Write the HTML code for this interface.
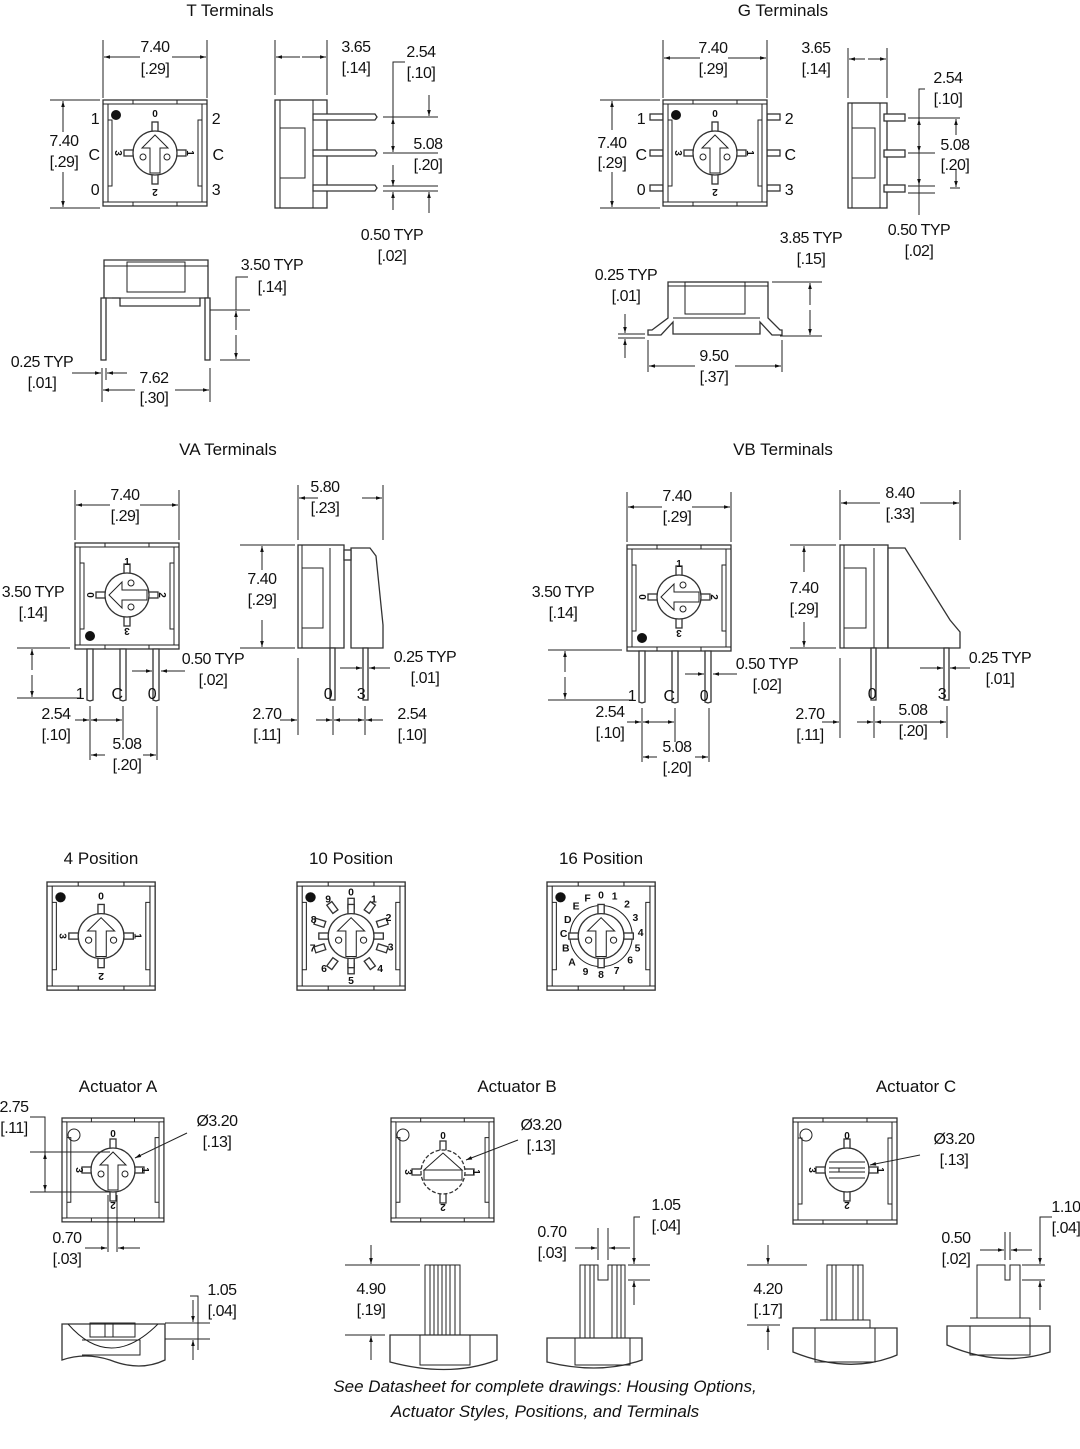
<!DOCTYPE html>
<html><head><meta charset="utf-8"><style>
html,body{margin:0;padding:0;background:#fff}
svg{display:block}
text{font-family:"Liberation Sans",sans-serif;fill:#111}
.d{font-size:16px;text-anchor:middle;letter-spacing:-0.5px}
.t{font-size:17px;text-anchor:middle}
.s{font-size:10px;font-weight:bold;text-anchor:middle}
.f{font-size:17px;font-style:italic;text-anchor:middle}
.l{stroke:#222;stroke-width:1;fill:none}
.b{stroke:#333;stroke-width:1.3;fill:#fff}
</style></head><body>
<svg width="1080" height="1449" viewBox="0 0 1080 1449" xmlns="http://www.w3.org/2000/svg">
<defs>
<marker id="a" viewBox="0 0 10 10" refX="10" refY="5" markerWidth="9" markerHeight="6" orient="auto-start-reverse"><path d="M0,2 L10,5 L0,8 z" fill="#111"/></marker>
<g id="body">
<rect x="0" y="0" width="104" height="106" class="b"/>
<rect x="5" y="4" width="94" height="98" class="l"/>
<path class="l" d="M0,4 h5 M99,4 h5 M0,102 h5 M99,102 h5 M30,0 v4 M74,0 v4 M30,102 v4 M74,102 v4 M5,20 h4 v66 h-4 M99,20 h-4 v66 h4"/>
</g>
<g id="dial">
<rect x="-3" y="-31" width="6" height="10" class="b"/>
<rect x="-3" y="21" width="6" height="10" class="b"/>
<rect x="-31" y="-3" width="10" height="6" class="b"/>
<rect x="21" y="-3" width="10" height="6" class="b"/>
<circle r="22" class="b"/>
<path class="l" d="M0,-18 L-13,-5 L-5,-5 L-5,20 L5,20 L5,-5 L13,-5 Z"/>
<circle cx="-12" cy="4" r="3" class="l"/><circle cx="12" cy="4" r="3" class="l"/>
</g>
<g id="sw">
<use href="#body"/>
<circle cx="13" cy="15" r="5" fill="#111"/>
<use href="#dial" x="52" y="53"/>
<text class="s" x="52" y="17">0</text>
<text class="s" x="52" y="97" transform="rotate(180 52 93)">2</text>
<text class="s" x="16" y="57" transform="rotate(90 16 53)">3</text>
<text class="s" x="88" y="57" transform="rotate(90 88 53)">1</text>
</g>
</defs>

<!-- ===== T Terminals ===== -->
<text class="t" x="230" y="16">T Terminals</text>
<use href="#sw" x="103" y="100"/>
<path class="l" d="M103,40 V98 M207,40 V98"/>
<line class="l" x1="140" y1="57" x2="104" y2="57" marker-end="url(#a)"/>
<line class="l" x1="172" y1="57" x2="206" y2="57" marker-end="url(#a)"/>
<text class="d" x="155" y="52">7.40</text><text class="d" x="155" y="74">[.29]</text>
<path class="l" d="M50,100 H100 M50,208 H100"/>
<line class="l" x1="63" y1="132" x2="63" y2="101" marker-end="url(#a)"/>
<line class="l" x1="63" y1="172" x2="63" y2="207" marker-end="url(#a)"/>
<text class="d" x="64" y="146">7.40</text><text class="d" x="64" y="167">[.29]</text>
<text class="d" x="95" y="124">1</text><text class="d" x="94" y="160">C</text><text class="d" x="95" y="195">0</text>
<text class="d" x="216" y="124">2</text><text class="d" x="218" y="160">C</text><text class="d" x="216" y="195">3</text>
<!-- side -->
<rect x="275" y="100" width="52" height="108" class="b"/>
<path class="l" d="M280,100 V208 M313,100 V208 M280,128 H305 V178 H280"/>
<path class="b" d="M313,114 H375 L377,117 L375,120 H313 Z M313,150 H375 L377,153 L375,156 H313 Z M313,185 H375 L377,188 L375,191 H313 Z"/>
<path class="l" d="M275,40 V95 M327,40 V95"/>
<line class="l" x1="300" y1="57" x2="276" y2="57" marker-end="url(#a)"/>
<line class="l" x1="302" y1="57" x2="326" y2="57" marker-end="url(#a)"/>
<text class="d" x="356" y="52">3.65</text><text class="d" x="356" y="73">[.14]</text>
<text class="d" x="421" y="57">2.54</text><text class="d" x="421" y="78">[.10]</text>
<path class="l" d="M405,62 H393 V118 M383,117 H438 M383,153 H438 M383,186 H438 M383,191 H438"/>
<line class="l" x1="429" y1="95" x2="429" y2="116" marker-end="url(#a)"/>
<line class="l" x1="393" y1="135" x2="393" y2="118" marker-end="url(#a)"/>
<line class="l" x1="393" y1="135" x2="393" y2="152" marker-end="url(#a)"/>
<line class="l" x1="393" y1="165" x2="393" y2="186" marker-end="url(#a)"/>
<line class="l" x1="393" y1="210" x2="393" y2="192" marker-end="url(#a)"/>
<line class="l" x1="429" y1="213" x2="429" y2="192" marker-end="url(#a)"/>
<text class="d" x="428" y="149">5.08</text><text class="d" x="428" y="170">[.20]</text>
<text class="d" x="392" y="240">0.50 TYP</text><text class="d" x="392" y="261">[.02]</text>
<!-- front -->
<path class="b" d="M104,260 H208 V298 H200 V306 H120 V298 H104 Z"/>
<rect x="127" y="262" width="58" height="30" class="l"/>
<path class="l" d="M104,266 H208 M112,298 H200"/>
<rect x="101" y="298" width="5" height="62" class="b"/>
<rect x="205" y="298" width="5" height="62" class="b"/>
<path class="l" d="M210,310 H250 M220,360 H250 M248,277 H236 V310"/>
<line class="l" x1="236" y1="330" x2="236" y2="311" marker-end="url(#a)"/>
<line class="l" x1="236" y1="335" x2="236" y2="359" marker-end="url(#a)"/>
<text class="d" x="272" y="270">3.50 TYP</text><text class="d" x="272" y="292">[.14]</text>
<text class="d" x="42" y="367">0.25 TYP</text><text class="d" x="42" y="388">[.01]</text>
<path class="l" d="M102,368 V402 M210,368 V402 M106,368 V380"/>
<line class="l" x1="72" y1="373" x2="101" y2="373" marker-end="url(#a)"/>
<line class="l" x1="127" y1="373" x2="107" y2="373" marker-end="url(#a)"/>
<line class="l" x1="135" y1="390" x2="103" y2="390" marker-end="url(#a)"/>
<line class="l" x1="175" y1="390" x2="209" y2="390" marker-end="url(#a)"/>
<text class="d" x="154" y="383">7.62</text><text class="d" x="154" y="403">[.30]</text>

<!-- ===== G Terminals ===== -->
<text class="t" x="783" y="16">G Terminals</text>
<g class="b">
<rect x="650" y="114" width="13" height="6"/><rect x="650" y="150" width="13" height="6"/><rect x="650" y="185" width="13" height="6"/>
<rect x="767" y="114" width="13" height="6"/><rect x="767" y="150" width="13" height="6"/><rect x="767" y="185" width="13" height="6"/>
</g>
<use href="#sw" x="663" y="100"/>
<path class="l" d="M663,40 V98 M767,40 V98 M600,100 H660 M600,208 H660"/>
<line class="l" x1="700" y1="58" x2="664" y2="58" marker-end="url(#a)"/>
<line class="l" x1="728" y1="58" x2="766" y2="58" marker-end="url(#a)"/>
<text class="d" x="713" y="53">7.40</text><text class="d" x="713" y="74">[.29]</text>
<line class="l" x1="612" y1="130" x2="612" y2="101" marker-end="url(#a)"/>
<line class="l" x1="612" y1="172" x2="612" y2="207" marker-end="url(#a)"/>
<text class="d" x="612" y="148">7.40</text><text class="d" x="612" y="168">[.29]</text>
<text class="d" x="641" y="124">1</text><text class="d" x="641" y="160">C</text><text class="d" x="641" y="195">0</text>
<text class="d" x="789" y="124">2</text><text class="d" x="790" y="160">C</text><text class="d" x="789" y="195">3</text>
<rect x="848" y="103" width="39" height="105" class="b"/>
<path class="l" d="M852,103 V208 M852,128 H875 V178 H852 M880,103 V208"/>
<g class="b"><rect x="884" y="114" width="21" height="7"/><rect x="884" y="150" width="21" height="7"/><rect x="884" y="185" width="21" height="7"/></g>
<path class="l" d="M848,48 V98 M887,48 V98"/>
<line class="l" x1="865" y1="59" x2="849" y2="59" marker-end="url(#a)"/>
<line class="l" x1="868" y1="59" x2="886" y2="59" marker-end="url(#a)"/>
<text class="d" x="816" y="53">3.65</text><text class="d" x="816" y="74">[.14]</text>
<text class="d" x="948" y="83">2.54</text><text class="d" x="948" y="104">[.10]</text>
<path class="l" d="M925,89 H919 V215 M908,118 H960 M908,153 H935 M908,186 H935 M908,193 H935 M950,188 H960"/>
<line class="l" x1="919" y1="135" x2="919" y2="119" marker-end="url(#a)"/>
<line class="l" x1="919" y1="135" x2="919" y2="152" marker-end="url(#a)"/>
<line class="l" x1="919" y1="170" x2="919" y2="185" marker-end="url(#a)"/>
<line class="l" x1="956" y1="135" x2="956" y2="119" marker-end="url(#a)"/>
<line class="l" x1="956" y1="170" x2="956" y2="187" marker-end="url(#a)"/>
<text class="d" x="955" y="150">5.08</text><text class="d" x="955" y="170">[.20]</text>
<text class="d" x="919" y="235">0.50 TYP</text><text class="d" x="919" y="256">[.02]</text>
<path class="b" d="M668,282 H768 V318 L780,330 H782 V335 H772 L760,322 V334 H673 V322 L661,335 H648 V330 H652 L668,318 Z"/>
<rect x="685" y="282" width="60" height="32" class="l"/>
<path class="l" d="M668,286 H768 M673,318 H760"/>
<path class="l" d="M772,282 H822 M780,336 H822 M648,340 V372 M782,340 V372 M618,334 H645 M618,338 H645"/>
<line class="l" x1="810" y1="305" x2="810" y2="283" marker-end="url(#a)"/>
<line class="l" x1="810" y1="310" x2="810" y2="335" marker-end="url(#a)"/>
<line class="l" x1="625" y1="314" x2="625" y2="333" marker-end="url(#a)"/>
<line class="l" x1="625" y1="358" x2="625" y2="339" marker-end="url(#a)"/>
<text class="d" x="811" y="243">3.85 TYP</text><text class="d" x="811" y="264">[.15]</text>
<text class="d" x="626" y="280">0.25 TYP</text><text class="d" x="626" y="301">[.01]</text>
<line class="l" x1="695" y1="366" x2="649" y2="366" marker-end="url(#a)"/>
<line class="l" x1="735" y1="366" x2="781" y2="366" marker-end="url(#a)"/>
<text class="d" x="714" y="361">9.50</text><text class="d" x="714" y="382">[.37]</text>

<!-- ===== VA ===== -->
<text class="t" x="228" y="455">VA Terminals</text>
<use href="#body" x="75" y="543"/>
<use href="#dial" transform="translate(127,595) rotate(-90)"/>
<circle cx="90" cy="636" r="5" fill="#111"/>
<text class="s" x="127" y="565">1</text><text class="s" x="127" y="636" transform="rotate(180 127 632)">3</text>
<text class="s" x="91" y="599" transform="rotate(90 91 595)">0</text><text class="s" x="163" y="599" transform="rotate(90 163 595)">2</text>
<g class="b"><path d="M87,649 H93 V700 L90,701 L87,700 Z"/><path d="M120,649 H126 V700 L123,701 L120,700 Z"/><path d="M153,649 H159 V700 L156,701 L153,700 Z"/></g>
<text class="d" x="80" y="699">1</text><text class="d" x="117" y="699">C</text><text class="d" x="152" y="699">0</text>
<path class="l" d="M75,490 V540 M179,490 V540"/>
<line class="l" x1="110" y1="505" x2="76" y2="505" marker-end="url(#a)"/>
<line class="l" x1="140" y1="505" x2="178" y2="505" marker-end="url(#a)"/>
<text class="d" x="125" y="500">7.40</text><text class="d" x="125" y="521">[.29]</text>
<text class="d" x="33" y="597">3.50 TYP</text><text class="d" x="33" y="618">[.14]</text>
<path class="l" d="M17,648 H70 M17,698 H80"/>
<line class="l" x1="32" y1="670" x2="32" y2="649" marker-end="url(#a)"/>
<line class="l" x1="32" y1="675" x2="32" y2="697" marker-end="url(#a)"/>
<text class="d" x="213" y="664">0.50 TYP</text><text class="d" x="213" y="685">[.02]</text>
<line class="l" x1="132" y1="671" x2="152" y2="671" marker-end="url(#a)"/>
<line class="l" x1="185" y1="671" x2="161" y2="671" marker-end="url(#a)"/>
<path class="l" d="M90,706 V760 M123,706 V740 M157,706 V760"/>
<line class="l" x1="75" y1="720" x2="89" y2="720" marker-end="url(#a)"/>
<line class="l" x1="106" y1="720" x2="91" y2="720" marker-end="url(#a)"/>
<line class="l" x1="106" y1="720" x2="122" y2="720" marker-end="url(#a)"/>
<line class="l" x1="105" y1="755" x2="91" y2="755" marker-end="url(#a)"/>
<line class="l" x1="143" y1="755" x2="156" y2="755" marker-end="url(#a)"/>
<text class="d" x="56" y="719">2.54</text><text class="d" x="56" y="740">[.10]</text>
<text class="d" x="127" y="749">5.08</text><text class="d" x="127" y="770">[.20]</text>
<!-- VA side -->
<rect x="298" y="545" width="46" height="103" class="b"/>
<path class="l" d="M302,545 V648 M302,568 H323 V628 H302 M330,548 V648"/>
<path class="b" d="M351,548 H370 L376,556 L383,625 L383,648 H351 Z"/>
<rect x="344" y="550" width="7" height="10" class="b"/>
<rect x="330" y="648" width="5" height="52" class="b"/><rect x="363" y="648" width="5" height="52" class="b"/>
<text class="d" x="328" y="699">0</text><text class="d" x="361" y="699">3</text>
<path class="l" d="M298,485 V540 M383,485 V540"/>
<line class="l" x1="318" y1="498" x2="299" y2="498" marker-end="url(#a)"/>
<line class="l" x1="362" y1="498" x2="382" y2="498" marker-end="url(#a)"/>
<text class="d" x="325" y="492">5.80</text><text class="d" x="325" y="513">[.23]</text>
<path class="l" d="M240,545 H295 M240,648 H295"/>
<line class="l" x1="262" y1="570" x2="262" y2="546" marker-end="url(#a)"/>
<line class="l" x1="262" y1="620" x2="262" y2="647" marker-end="url(#a)"/>
<text class="d" x="262" y="584">7.40</text><text class="d" x="262" y="605">[.29]</text>
<line class="l" x1="340" y1="668" x2="362" y2="668" marker-end="url(#a)"/>
<line class="l" x1="390" y1="668" x2="369" y2="668" marker-end="url(#a)"/>
<text class="d" x="425" y="662">0.25 TYP</text><text class="d" x="425" y="683">[.01]</text>
<path class="l" d="M298,658 V735 M333,706 V735 M365,706 V735"/>
<line class="l" x1="280" y1="720" x2="297" y2="720" marker-end="url(#a)"/>
<line class="l" x1="316" y1="720" x2="332" y2="720" marker-end="url(#a)"/>
<line class="l" x1="350" y1="720" x2="334" y2="720" marker-end="url(#a)"/>
<line class="l" x1="350" y1="720" x2="364" y2="720" marker-end="url(#a)"/>
<line class="l" x1="383" y1="720" x2="366" y2="720" marker-end="url(#a)"/>
<text class="d" x="267" y="719">2.70</text><text class="d" x="267" y="740">[.11]</text>
<text class="d" x="412" y="719">2.54</text><text class="d" x="412" y="740">[.10]</text>

<!-- ===== VB ===== -->
<text class="t" x="783" y="455">VB Terminals</text>
<use href="#body" x="627" y="545"/>
<use href="#dial" transform="translate(679,597) rotate(-90)"/>
<circle cx="642" cy="638" r="5" fill="#111"/>
<text class="s" x="679" y="567">1</text><text class="s" x="679" y="638" transform="rotate(180 679 634)">3</text>
<text class="s" x="643" y="601" transform="rotate(90 643 597)">0</text><text class="s" x="715" y="601" transform="rotate(90 715 597)">2</text>
<g class="b"><path d="M639,651 H645 V702 L642,703 L639,702 Z"/><path d="M672,651 H678 V702 L675,703 L672,702 Z"/><path d="M705,651 H711 V702 L708,703 L705,702 Z"/></g>
<text class="d" x="632" y="701">1</text><text class="d" x="669" y="701">C</text><text class="d" x="704" y="701">0</text>
<path class="l" d="M627,492 V542 M731,492 V542"/>
<line class="l" x1="662" y1="507" x2="628" y2="507" marker-end="url(#a)"/>
<line class="l" x1="692" y1="507" x2="730" y2="507" marker-end="url(#a)"/>
<text class="d" x="677" y="501">7.40</text><text class="d" x="677" y="522">[.29]</text>
<text class="d" x="563" y="597">3.50 TYP</text><text class="d" x="563" y="618">[.14]</text>
<path class="l" d="M548,650 H622 M548,700 H632"/>
<line class="l" x1="565" y1="672" x2="565" y2="651" marker-end="url(#a)"/>
<line class="l" x1="565" y1="677" x2="565" y2="699" marker-end="url(#a)"/>
<text class="d" x="767" y="669">0.50 TYP</text><text class="d" x="767" y="690">[.02]</text>
<line class="l" x1="685" y1="674" x2="704" y2="674" marker-end="url(#a)"/>
<line class="l" x1="737" y1="674" x2="713" y2="674" marker-end="url(#a)"/>
<path class="l" d="M642,708 V762 M675,708 V742 M709,708 V762"/>
<line class="l" x1="627" y1="722" x2="641" y2="722" marker-end="url(#a)"/>
<line class="l" x1="658" y1="722" x2="643" y2="722" marker-end="url(#a)"/>
<line class="l" x1="658" y1="722" x2="674" y2="722" marker-end="url(#a)"/>
<line class="l" x1="657" y1="757" x2="643" y2="757" marker-end="url(#a)"/>
<line class="l" x1="695" y1="757" x2="708" y2="757" marker-end="url(#a)"/>
<text class="d" x="610" y="717">2.54</text><text class="d" x="610" y="738">[.10]</text>
<text class="d" x="677" y="752">5.08</text><text class="d" x="677" y="773">[.20]</text>
<!-- VB side -->
<rect x="840" y="545" width="48" height="103" class="b"/>
<path class="l" d="M844,545 V648 M844,568 H866 V628 H844 M874,548 V648"/>
<path class="b" d="M888,548 H905 L950,620 L960,632 V648 H888 Z"/>
<rect x="871" y="648" width="5" height="52" class="b"/><rect x="944" y="648" width="5" height="52" class="b"/>
<text class="d" x="872" y="699">0</text><text class="d" x="942" y="699">3</text>
<path class="l" d="M840,490 V540 M960,490 V540"/>
<line class="l" x1="880" y1="503" x2="841" y2="503" marker-end="url(#a)"/>
<line class="l" x1="920" y1="503" x2="959" y2="503" marker-end="url(#a)"/>
<text class="d" x="900" y="498">8.40</text><text class="d" x="900" y="519">[.33]</text>
<path class="l" d="M790,545 H836 M790,648 H836"/>
<line class="l" x1="804" y1="572" x2="804" y2="546" marker-end="url(#a)"/>
<line class="l" x1="804" y1="622" x2="804" y2="647" marker-end="url(#a)"/>
<text class="d" x="804" y="593">7.40</text><text class="d" x="804" y="614">[.29]</text>
<line class="l" x1="920" y1="668" x2="943" y2="668" marker-end="url(#a)"/>
<line class="l" x1="970" y1="668" x2="950" y2="668" marker-end="url(#a)"/>
<text class="d" x="1000" y="663">0.25 TYP</text><text class="d" x="1000" y="684">[.01]</text>
<path class="l" d="M840,658 V738 M874,706 V738 M947,706 V738"/>
<line class="l" x1="822" y1="722" x2="839" y2="722" marker-end="url(#a)"/>
<line class="l" x1="857" y1="722" x2="873" y2="722" marker-end="url(#a)"/>
<line class="l" x1="900" y1="722" x2="875" y2="722" marker-end="url(#a)"/>
<line class="l" x1="900" y1="722" x2="946" y2="722" marker-end="url(#a)"/>
<text class="d" x="810" y="719">2.70</text><text class="d" x="810" y="740">[.11]</text>
<text class="d" x="913" y="715">5.08</text><text class="d" x="913" y="736">[.20]</text>

<!-- ===== Positions ===== -->
<text class="t" x="101" y="864">4 Position</text>
<text class="t" x="351" y="864">10 Position</text>
<text class="t" x="601" y="864">16 Position</text>
<use href="#sw" transform="translate(47,882) scale(1.04,1.02)"/>
<g transform="translate(297,882) scale(1.04,1.02)">
<use href="#body"/><circle cx="13" cy="15" r="5" fill="#111"/>
<g class="b">
<rect x="49" y="16" width="6" height="10"/><rect x="49" y="80" width="6" height="10"/>
<rect x="67" y="20" width="6" height="10" transform="rotate(36 70 25)"/>
<rect x="79" y="35" width="6" height="10" transform="rotate(72 82 40)"/>
<rect x="79" y="60" width="6" height="10" transform="rotate(108 82 65)"/>
<rect x="67" y="75" width="6" height="10" transform="rotate(144 70 80)"/>
<rect x="31" y="20" width="6" height="10" transform="rotate(-36 34 25)"/>
<rect x="19" y="35" width="6" height="10" transform="rotate(-72 22 40)"/>
<rect x="19" y="60" width="6" height="10" transform="rotate(-108 22 65)"/>
<rect x="31" y="75" width="6" height="10" transform="rotate(-144 34 80)"/>
</g>
<use href="#dial" x="52" y="53"/>
<g class="s"><text x="52" y="13">0</text><text x="74" y="20">1</text><text x="88" y="38">2</text><text x="90" y="67">3</text><text x="80" y="88">4</text><text x="52" y="100">5</text><text x="26" y="88">6</text><text x="15" y="68">7</text><text x="16" y="40">8</text><text x="30" y="20">9</text></g>
</g>
<g transform="translate(547,882) scale(1.04,1.02)">
<use href="#body"/><circle cx="13" cy="15" r="5" fill="#111"/>
<circle cx="52" cy="53" r="30" class="l"/>
<use href="#dial" x="52" y="53"/>
<g class="s"><text x="52" y="16">0</text><text x="65" y="17">1</text><text x="77" y="25">2</text><text x="85" y="38">3</text><text x="90" y="53">4</text><text x="87" y="68">5</text><text x="80" y="80">6</text><text x="67" y="90">7</text><text x="52" y="94">8</text><text x="37" y="91">9</text><text x="24" y="82">A</text><text x="18" y="68">B</text><text x="16" y="54">C</text><text x="20" y="40">D</text><text x="28" y="27">E</text><text x="39" y="19">F</text></g>
</g>

<!-- ===== Actuators ===== -->
<text class="t" x="118" y="1092">Actuator A</text>
<text class="t" x="517" y="1092">Actuator B</text>
<text class="t" x="916" y="1092">Actuator C</text>
<g id="actA">
<use href="#body" transform="translate(62,1118) scale(0.98,0.98)"/>
<circle cx="74" cy="1135" r="6" class="l"/>
<use href="#dial" x="113" y="1170"/>
<text class="s" x="113" y="1137">0</text><text class="s" x="113" y="1210" transform="rotate(180 113 1206)">2</text>
<text class="s" x="80" y="1174" transform="rotate(90 80 1170)">3</text><text class="s" x="146" y="1174" transform="rotate(90 146 1170)">1</text>
</g>
<path class="l" d="M30,1117 H45 V1192 M30,1152 H110 M30,1192 H110"/>
<line class="l" x1="45" y1="1170" x2="45" y2="1153" marker-end="url(#a)"/>
<line class="l" x1="45" y1="1172" x2="45" y2="1191" marker-end="url(#a)"/>
<text class="d" x="14" y="1112">2.75</text><text class="d" x="14" y="1133">[.11]</text>
<line class="l" x1="187" y1="1133" x2="135" y2="1158" marker-end="url(#a)"/>
<text class="d" x="217" y="1126">Ø3.20</text><text class="d" x="217" y="1147">[.13]</text>
<path class="l" d="M108,1195 V1252 M117,1195 V1252"/>
<line class="l" x1="85" y1="1248" x2="107" y2="1248" marker-end="url(#a)"/>
<line class="l" x1="140" y1="1248" x2="118" y2="1248" marker-end="url(#a)"/>
<text class="d" x="67" y="1243">0.70</text><text class="d" x="67" y="1264">[.03]</text>
<path class="b" d="M62,1324 H165 V1360 Q140,1372 110,1360 Q85,1352 62,1360 Z"/>
<path class="l" d="M68,1324 Q110,1372 158,1324 M90,1323 H135 V1337 H90 Z M105,1323 V1337 M113,1323 V1337 M82,1340 H140 V1355 H82"/>
<path class="l" d="M190,1296 H198 V1350 M165,1323 H210 M165,1339 H210"/>
<line class="l" x1="193" y1="1300" x2="193" y2="1322" marker-end="url(#a)"/>
<line class="l" x1="193" y1="1360" x2="193" y2="1340" marker-end="url(#a)"/>
<text class="d" x="222" y="1295">1.05</text><text class="d" x="222" y="1316">[.04]</text>

<!-- B -->
<use href="#body" transform="translate(391,1118) scale(0.99,0.98)"/>
<circle cx="403" cy="1135" r="6" class="l"/>
<g transform="translate(443,1172)">
<rect x="-3" y="-31" width="6" height="10" class="b"/><rect x="-3" y="21" width="6" height="10" class="b"/>
<rect x="-31" y="-3" width="10" height="6" class="b"/><rect x="21" y="-3" width="10" height="6" class="b"/>
<circle r="22" class="b" stroke-dasharray="4 2"/>
<path class="l" d="M-19,-2 L0,-19 L19,-2 Z M-19,-2 H19 V8 H-19 Z"/>
</g>
<text class="s" x="443" y="1139">0</text><text class="s" x="443" y="1212" transform="rotate(180 443 1208)">2</text>
<text class="s" x="409" y="1176" transform="rotate(90 409 1172)">3</text><text class="s" x="477" y="1176" transform="rotate(90 477 1172)">1</text>
<line class="l" x1="518" y1="1140" x2="466" y2="1160" marker-end="url(#a)"/>
<text class="d" x="541" y="1130">Ø3.20</text><text class="d" x="541" y="1151">[.13]</text>
<path class="l" d="M425,1265 H460 V1340 H425 Z M430,1265 V1340 M434,1265 V1340 M438,1265 V1340 M442,1265 V1340 M446,1265 V1340 M450,1265 V1340 M455,1265 V1340"/>
<path class="b" d="M390,1335 H497 V1360 Q450,1378 390,1362 Z"/>
<path class="l" d="M420,1335 V1365 H470 V1335"/>
<path class="l" d="M345,1265 H420 M345,1335 H385"/>
<line class="l" x1="371" y1="1245" x2="371" y2="1264" marker-end="url(#a)"/>
<line class="l" x1="371" y1="1360" x2="371" y2="1336" marker-end="url(#a)"/>
<text class="d" x="371" y="1294">4.90</text><text class="d" x="371" y="1315">[.19]</text>
<path class="l" d="M580,1265 H598 V1280 H608 V1265 H625 V1338 H580 Z M585,1265 V1338 M590,1265 V1338 M594,1265 V1338 M612,1265 V1338 M617,1265 V1338 M621,1265 V1338"/>
<path class="b" d="M547,1338 H642 V1360 Q600,1375 547,1362 Z"/>
<path class="l" d="M575,1338 V1365 H630 V1338"/>
<path class="l" d="M598,1228 V1260 M608,1228 V1260 M628,1265 H650 M628,1280 H650 M640,1217 H634 V1262"/>
<line class="l" x1="575" y1="1248" x2="597" y2="1248" marker-end="url(#a)"/>
<line class="l" x1="630" y1="1248" x2="609" y2="1248" marker-end="url(#a)"/>
<line class="l" x1="634" y1="1240" x2="634" y2="1264" marker-end="url(#a)"/>
<line class="l" x1="634" y1="1305" x2="634" y2="1281" marker-end="url(#a)"/>
<text class="d" x="552" y="1237">0.70</text><text class="d" x="552" y="1258">[.03]</text>
<text class="d" x="666" y="1210">1.05</text><text class="d" x="666" y="1231">[.04]</text>

<!-- C -->
<use href="#body" x="793" y="1118"/>
<circle cx="806" cy="1135" r="6" class="l"/>
<g transform="translate(847,1170)">
<rect x="-3" y="-31" width="6" height="10" class="b"/><rect x="-3" y="21" width="6" height="10" class="b"/>
<rect x="-31" y="-3" width="10" height="6" class="b"/><rect x="21" y="-3" width="10" height="6" class="b"/>
<circle r="22" class="b"/>
<path class="l" d="M-18,-8 H18 M-18,8 H18 M-18,-2 H18 M-18,2 H18 M-8,-2 V2"/>
</g>
<text class="s" x="847" y="1139">0</text><text class="s" x="847" y="1210" transform="rotate(180 847 1206)">2</text>
<text class="s" x="813" y="1174" transform="rotate(90 813 1170)">3</text><text class="s" x="881" y="1174" transform="rotate(90 881 1170)">1</text>
<line class="l" x1="920" y1="1155" x2="870" y2="1165" marker-end="url(#a)"/>
<text class="d" x="954" y="1144">Ø3.20</text><text class="d" x="954" y="1165">[.13]</text>
<path class="l" d="M827,1265 H863 V1320 H827 Z M832,1265 V1320 M836,1265 V1320 M853,1265 V1320 M858,1265 V1320 M820,1320 H870 V1328 H820"/>
<path class="b" d="M793,1328 H897 V1355 Q850,1375 793,1352 Z"/>
<path class="l" d="M815,1328 V1362 H875 V1328"/>
<path class="l" d="M747,1265 H807 M747,1325 H780"/>
<line class="l" x1="768" y1="1245" x2="768" y2="1264" marker-end="url(#a)"/>
<line class="l" x1="768" y1="1350" x2="768" y2="1326" marker-end="url(#a)"/>
<text class="d" x="768" y="1294">4.20</text><text class="d" x="768" y="1315">[.17]</text>
<path class="l" d="M977,1265 H1005 V1280 H1010 V1265 H1020 V1318 H977 Z M970,1318 H1030 V1326 H970"/>
<path class="b" d="M947,1326 H1050 V1352 Q1000,1368 947,1345 Z"/>
<path class="l" d="M970,1326 V1355 H1030 V1326"/>
<path class="l" d="M1005,1232 V1260 M1010,1232 V1260 M1022,1265 H1045 M1022,1280 H1045 M1052,1217 H1040 V1262"/>
<line class="l" x1="980" y1="1250" x2="1004" y2="1250" marker-end="url(#a)"/>
<line class="l" x1="1032" y1="1250" x2="1011" y2="1250" marker-end="url(#a)"/>
<line class="l" x1="1040" y1="1240" x2="1040" y2="1264" marker-end="url(#a)"/>
<line class="l" x1="1040" y1="1310" x2="1040" y2="1281" marker-end="url(#a)"/>
<text class="d" x="956" y="1243">0.50</text><text class="d" x="956" y="1264">[.02]</text>
<text class="d" x="1066" y="1212">1.10</text><text class="d" x="1066" y="1233">[.04]</text>

<text class="f" x="545" y="1392">See Datasheet for complete drawings: Housing Options,</text>
<text class="f" x="545" y="1417">Actuator Styles, Positions, and Terminals</text>
</svg>
</body></html>
